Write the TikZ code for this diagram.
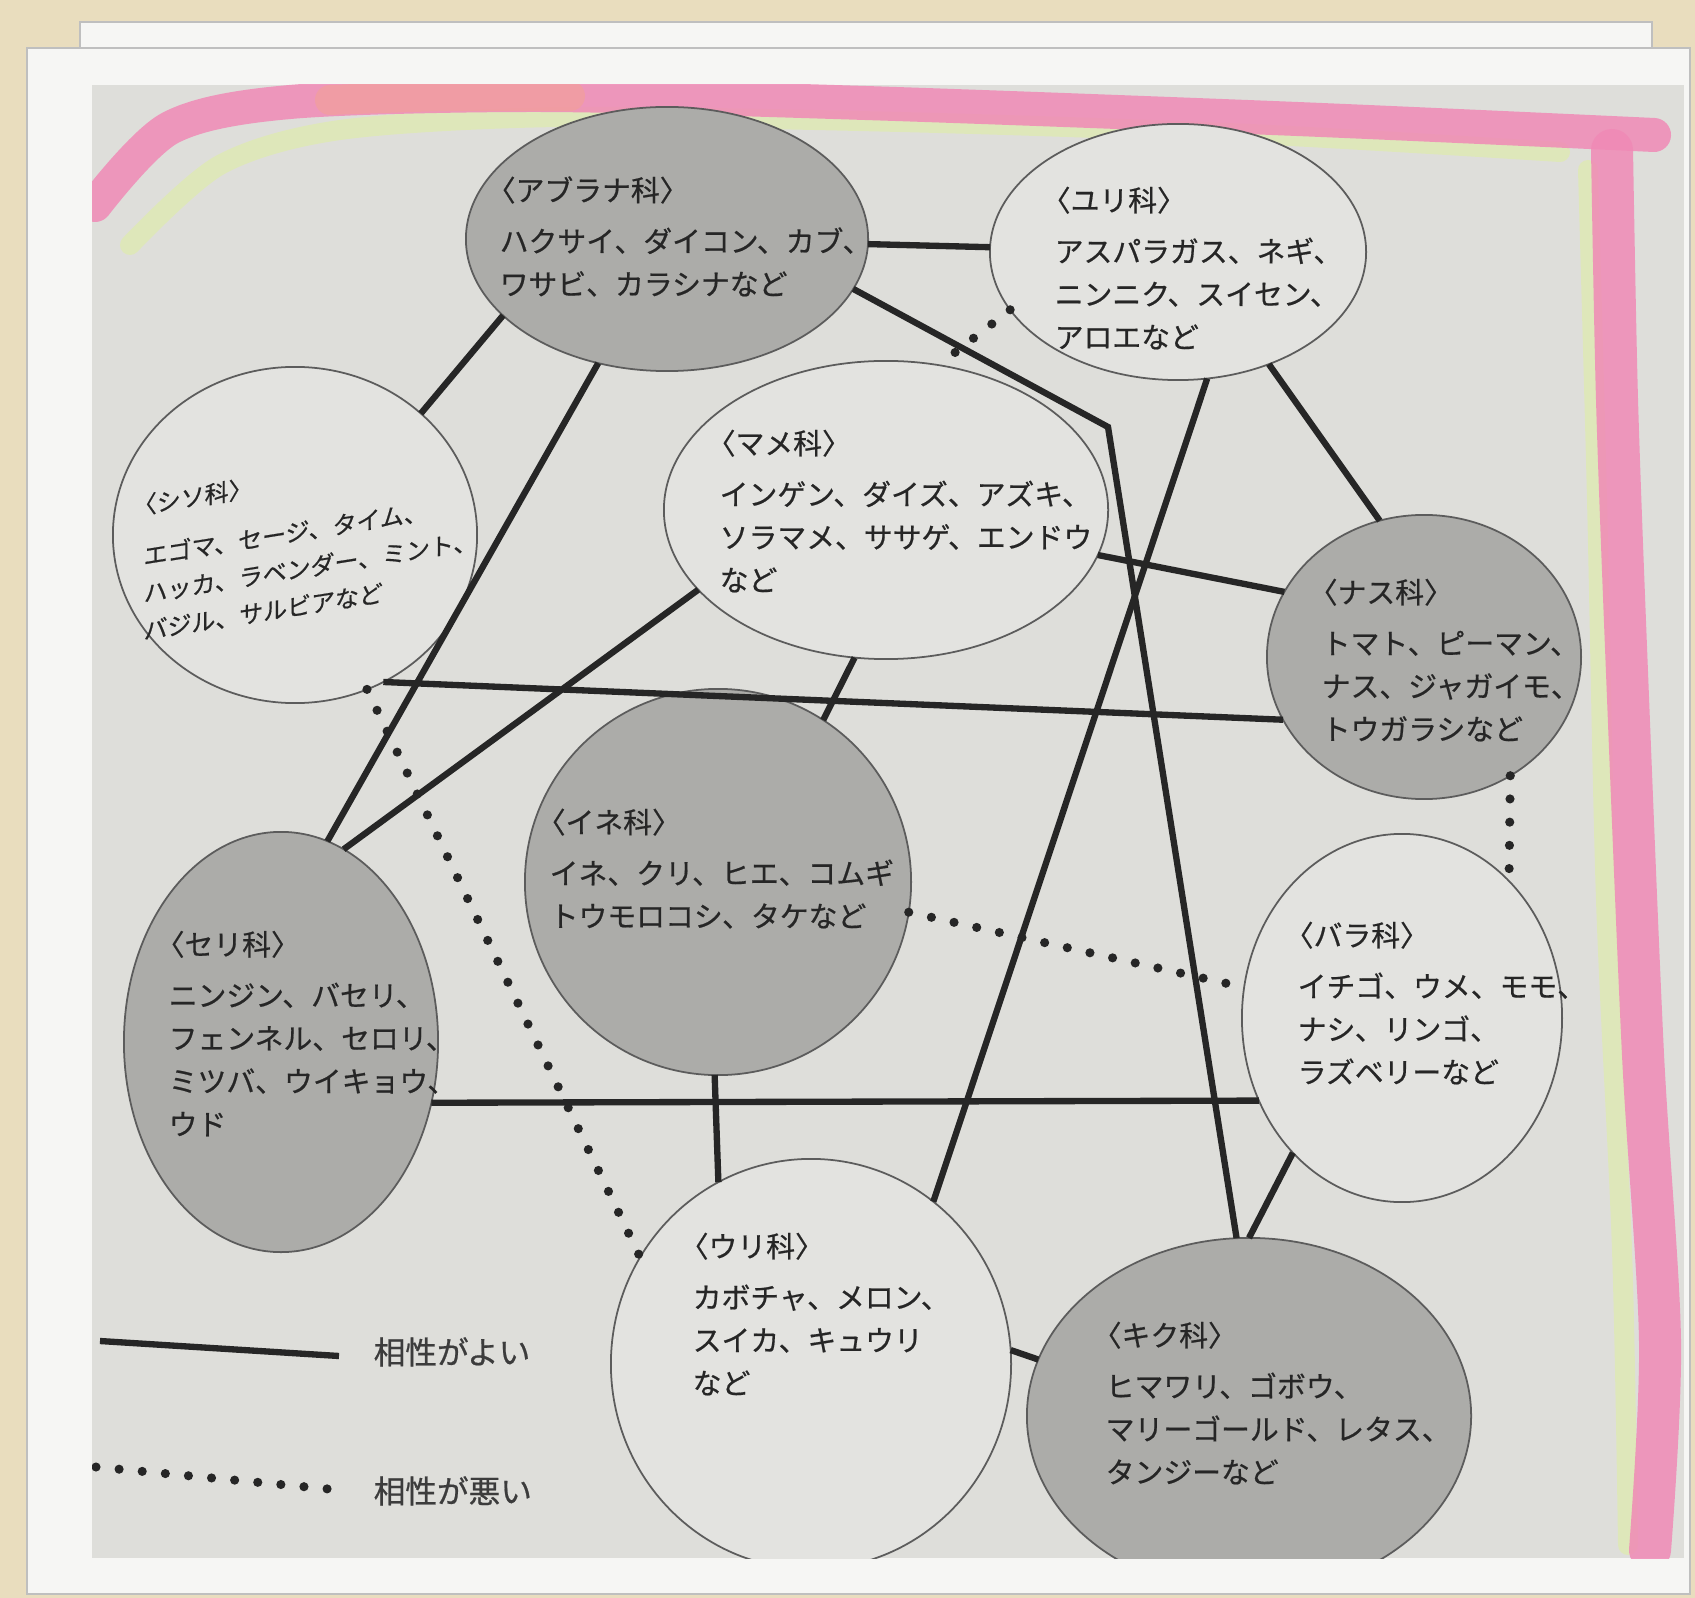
\documentclass[tikz,border=0pt]{standalone}
\usepackage{fontspec}
\newfontfamily\jp[FakeBold=0.6]{Noto Sans CJK JP}
\usetikzlibrary{shapes.geometric}
\definecolor{beige}{RGB}{233,221,190}
\definecolor{framewhite}{RGB}{246,246,244}
\definecolor{pagegray}{RGB}{222,222,218}
\definecolor{darkfill}{RGB}{172,172,169}
\definecolor{lightfill}{RGB}{227,227,224}
\definecolor{ink}{RGB}{38,38,38}
\definecolor{hlpink}{RGB}{240,138,182}
\definecolor{hlsalmon}{RGB}{243,160,150}
\definecolor{hlgreen}{RGB}{222,238,165}
\begin{document}
\begin{tikzpicture}[x=0.01cm,y=-0.01cm,
  famdark/.style={ellipse, draw=ink!75, line width=0.5pt, fill=darkfill, inner sep=0pt, outer sep=0pt},
  famlight/.style={ellipse, draw=ink!75, line width=0.5pt, fill=lightfill, inner sep=0pt, outer sep=0pt},
  famtext/.style={font=\jp\fontsize{8.2pt}{12.2pt}\selectfont, align=left, anchor=base west, inner sep=0pt, text=ink},
  good/.style={draw=ink, line width=1.8pt},
  bad/.style={draw=ink, line width=2.6pt, line cap=round, dash pattern=on 0pt off 6.6pt},
  legtext/.style={font=\jp\fontsize{9pt}{11pt}\selectfont, anchor=base west, inner sep=0pt, text=ink!90}
]
\useasboundingbox (0,0) rectangle (1695,1598);
% photo frame
\fill[beige] (0,0) rectangle (1695,1598);
\fill[framewhite, draw=gray!50] (80,22) rectangle (1652,1575);
\fill[framewhite, draw=gray!50] (27,48) rectangle (1690,1594);
\fill[pagegray] (92,85) rectangle (1684,1558);
\begin{scope}
\clip (92,85) rectangle (1684,1558);
% highlighter marks
\draw[hlgreen, line width=0.2cm, opacity=0.6, line cap=round]
  plot[smooth] coordinates {(130,245) (220,165) (340,130) (560,117) (900,122) (1250,134) (1560,152)};
\draw[hlgreen, line width=0.2cm, opacity=0.6, line cap=round]
  plot[smooth] coordinates {(1588,170) (1597,500) (1606,900) (1622,1250) (1628,1545)};
\draw[hlpink, line width=0.34cm, opacity=0.85, line cap=round]
  plot[smooth] coordinates {(95,205) (170,128) (290,102) (540,95) (865,103) (1297,119) (1654,135)};
\draw[hlsalmon, line width=0.3cm, opacity=0.6, line cap=round]
  plot[smooth] coordinates {(330,100) (450,96) (570,96)};
\draw[hlpink, line width=0.42cm, opacity=0.85, line cap=round]
  plot[smooth] coordinates {(1612,150) (1617,400) (1627,673) (1643,1055) (1660,1342) (1650,1550)};

% family ellipses
\node[famdark,  minimum width=4.02cm, minimum height=2.64cm] (A)  at (667,239)  {};
\node[famlight, minimum width=3.76cm, minimum height=2.56cm] (Y)  at (1178,252) {};
\node[famlight, minimum width=3.64cm, minimum height=3.36cm] (S)  at (295,535)  {};
\node[famlight, minimum width=4.44cm, minimum height=2.98cm] (M)  at (886,510)  {};
\node[famdark,  minimum width=3.14cm, minimum height=2.84cm] (N)  at (1424,657) {};
\node[famdark,  minimum width=3.86cm, minimum height=3.86cm] (I)  at (718,882)  {};
\node[famdark,  minimum width=3.14cm, minimum height=4.20cm] (Se) at (281,1042) {};
\node[famlight, minimum width=3.20cm, minimum height=3.68cm] (B)  at (1402,1018) {};
\node[famlight, minimum width=4.00cm, minimum height=4.10cm] (U)  at (811,1364) {};
\node[famdark,  minimum width=4.44cm, minimum height=3.56cm] (K)  at (1249,1416) {};
\coordinate (bend) at (1108,427);

% good combinations
\draw[good] (A) -- (Y);
\draw[good] (A.205) -- (S.44);
\draw[good] (A.241) -- (Se.77);
\draw[good] (A.-15.6) -- (bend) -- (K.94);
\draw[good] (Y.-51) -- (N.108);
\draw[good] (Y.-77.6) -- (U.53);
\draw[good] (M.-12) -- (N.155);
\draw[good] (M.203) -- (Se.72);
\draw[good] (M.-102) -- (I.57);
\draw[good] (S.-59) -- (N.204);
\draw[good] (Se.-22) -- (B.210);
\draw[good] (I.-91.5) -- (U.117);
\draw[good] (B.231) -- (K.90);
\draw[good] (U.4) -- (K.165);

% bad combinations
\draw[bad] (Y.199) -- (M.70);
\draw[bad] (S.-65) -- (U.148);
\draw[bad] (N.-54) -- (B.52);
\draw[bad] (I.-9) -- (B.169);

% texts (anchored at the baseline of their last line)
\node[famtext] (tA) at (499,295) {\hspace{-0.45em}〈アブラナ科〉\\[2.3pt]ハクサイ、ダイコン、カブ、\\ワサビ、カラシナなど};
\node[famtext] (tY) at (1054,348) {\hspace{-0.45em}〈ユリ科〉\\[2.3pt]アスパラガス、ネギ、\\ニンニク、スイセン、\\アロエなど};
\node[famtext, font=\jp\fontsize{6.8pt}{10.6pt}\selectfont, yslant=0.16] (tS) at (143,640) {\hspace{-0.45em}〈シソ科〉\\[4pt]エゴマ、セージ、タイム、\\ハッカ、ラベンダー、ミント、\\バジル、サルビアなど};
\node[famtext] (tM) at (719,591) {\hspace{-0.45em}〈マメ科〉\\[2.3pt]インゲン、ダイズ、アズキ、\\ソラマメ、ササゲ、エンドウ\\など};
\node[famtext] (tN) at (1321,740) {\hspace{-0.45em}〈ナス科〉\\[2.3pt]トマト、ピーマン、\\ナス、ジャガイモ、\\トウガラシなど};
\node[famtext] (tI) at (549,927) {\hspace{-0.45em}〈イネ科〉\\[2.3pt]イネ、クリ、ヒエ、コムギ\\トウモロコシ、タケなど};
\node[famtext] (tSe) at (168,1135) {\hspace{-0.45em}〈セリ科〉\\[2.3pt]ニンジン、バセリ、\\フェンネル、セロリ、\\ミツバ、ウイキョウ、\\ウド};
\node[famtext] (tB) at (1297,1083) {\hspace{-0.45em}〈バラ科〉\\[2.3pt]イチゴ、ウメ、モモ、\\ナシ、リンゴ、\\ラズベリーなど};
\node[famtext] (tU) at (692,1394) {\hspace{-0.45em}〈ウリ科〉\\[2.3pt]カボチャ、メロン、\\スイカ、キュウリ\\など};
\node[famtext] (tK) at (1105,1483) {\hspace{-0.45em}〈キク科〉\\[2.3pt]ヒマワリ、ゴボウ、\\マリーゴールド、レタス、\\タンジーなど};

% legend
\coordinate (g1) at (100,1341);
\coordinate (g2) at (339,1356);
\coordinate (b1) at (96,1467);
\coordinate (b2) at (339,1490);
\draw[good] (g1) -- (g2);
\draw[bad] (b1) -- (b2);
\node[legtext] (lg) at (373,1364) {相性がよい};
\node[legtext] (lb) at (373,1503) {相性が悪い};
\end{scope}
\end{tikzpicture}
\end{document}
